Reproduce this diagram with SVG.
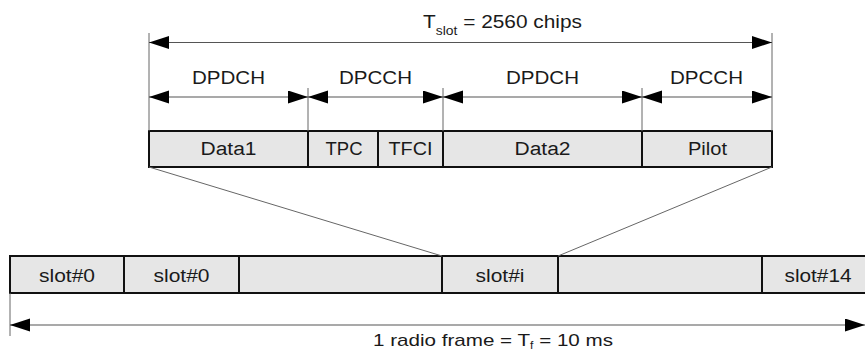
<svg xmlns="http://www.w3.org/2000/svg" width="865" height="353" viewBox="0 0 865 353">
  <defs>
    <marker id="ah" markerUnits="userSpaceOnUse" markerWidth="20" markerHeight="14" refX="20" refY="6.5" orient="auto-start-reverse">
      <path d="M0,0 L20,6.5 L0,13 z" fill="#000"/>
    </marker>
    <style>
      text { font-family: "Liberation Sans", Arial, sans-serif; font-size: 18px; fill: #1a1a1a; }
      .mid { text-anchor: middle; }
      .cell { fill: #e6e6e6; stroke: #111; stroke-width: 2; }
      .ext { stroke: #666; stroke-width: 1; fill: none; }
      .arr { stroke: #555; stroke-width: 1.2; fill: none; marker-start: url(#ah); marker-end: url(#ah); }
    </style>
  </defs>
  <rect width="865" height="353" fill="#fff"/>

  <!-- slot fields -->
  <g id="data1"><rect class="cell" x="149" y="131" width="159" height="36"/><text class="mid" x="228.5" y="155" textLength="56" lengthAdjust="spacingAndGlyphs">Data1</text></g>
  <g id="tpc"><rect class="cell" x="308" y="131" width="70" height="36"/><text class="mid" x="344" y="155" textLength="37" lengthAdjust="spacingAndGlyphs">TPC</text></g>
  <g id="tfci"><rect class="cell" x="378" y="131" width="65" height="36"/><text class="mid" x="410.5" y="155" textLength="44" lengthAdjust="spacingAndGlyphs">TFCI</text></g>
  <g id="data2"><rect class="cell" x="443" y="131" width="199" height="36"/><text class="mid" x="542.5" y="155" textLength="56" lengthAdjust="spacingAndGlyphs">Data2</text></g>
  <g id="pilot"><rect class="cell" x="642" y="131" width="130" height="36"/><text class="mid" x="707.5" y="155" textLength="39" lengthAdjust="spacingAndGlyphs">Pilot</text></g>

  <!-- frame slots -->
  <g id="frame"><rect class="cell" x="10" y="256" width="870" height="37"/></g>
  <g id="slot0a"><rect class="cell" x="10" y="256" width="114" height="37"/><text class="mid" x="67" y="282" textLength="56" lengthAdjust="spacingAndGlyphs">slot#0</text></g>
  <g id="slot0b"><rect class="cell" x="124" y="256" width="115" height="37"/><text class="mid" x="181.5" y="282" textLength="56" lengthAdjust="spacingAndGlyphs">slot#0</text></g>
  <g id="slotgap1"><rect class="cell" x="239" y="256" width="203" height="37"/></g>
  <g id="sloti"><rect class="cell" x="442" y="256" width="116" height="37"/><text class="mid" x="500" y="282" textLength="49" lengthAdjust="spacingAndGlyphs">slot#i</text></g>
  <g id="slotgap2"><rect class="cell" x="558" y="256" width="204" height="37"/></g>
  <g id="slot14"><rect class="cell" x="762" y="256" width="118" height="37"/><text class="mid" x="818" y="282" textLength="67" lengthAdjust="spacingAndGlyphs">slot#14</text></g>

  <!-- connectors -->
  <g id="connectors">
    <line class="ext" x1="149" y1="33" x2="149" y2="131"/>
    <line class="ext" x1="772" y1="33" x2="772" y2="131"/>
    <line class="ext" x1="308" y1="88" x2="308" y2="131"/>
    <line class="ext" x1="443" y1="88" x2="443" y2="131"/>
    <line class="ext" x1="642" y1="88" x2="642" y2="131"/>
    <line class="arr" x1="149" y1="42.5" x2="772" y2="42.5"/>
    <line class="arr" x1="149" y1="97" x2="308" y2="97"/>
    <line class="arr" x1="308" y1="97" x2="443" y2="97"/>
    <line class="arr" x1="443" y1="97" x2="642" y2="97"/>
    <line class="arr" x1="642" y1="97" x2="772" y2="97"/>
    <line class="ext" x1="149" y1="167" x2="442" y2="256"/>
    <line class="ext" x1="772" y1="167" x2="558" y2="256"/>
    <line class="ext" x1="10" y1="293" x2="10" y2="336"/>
    <line class="arr" x1="10" y1="325" x2="865" y2="325"/>
  </g>

  <!-- labels -->
  <g id="labels">
    <text x="423" y="28" textLength="159" lengthAdjust="spacingAndGlyphs">T<tspan font-size="12" dy="7">slot</tspan><tspan dy="-7"> = 2560 chips</tspan></text>
    <text class="mid" x="228.5" y="84" textLength="73" lengthAdjust="spacingAndGlyphs">DPDCH</text>
    <text class="mid" x="375.5" y="84" textLength="73" lengthAdjust="spacingAndGlyphs">DPCCH</text>
    <text class="mid" x="542.5" y="84" textLength="73" lengthAdjust="spacingAndGlyphs">DPDCH</text>
    <text class="mid" x="706.5" y="84" textLength="73" lengthAdjust="spacingAndGlyphs">DPCCH</text>
    <text x="373" y="346" style="font-size:17px" textLength="240" lengthAdjust="spacingAndGlyphs">1 radio frame = T<tspan font-size="10" dy="3">f</tspan><tspan dy="-3"> = 10 ms</tspan></text>
  </g>
</svg>
